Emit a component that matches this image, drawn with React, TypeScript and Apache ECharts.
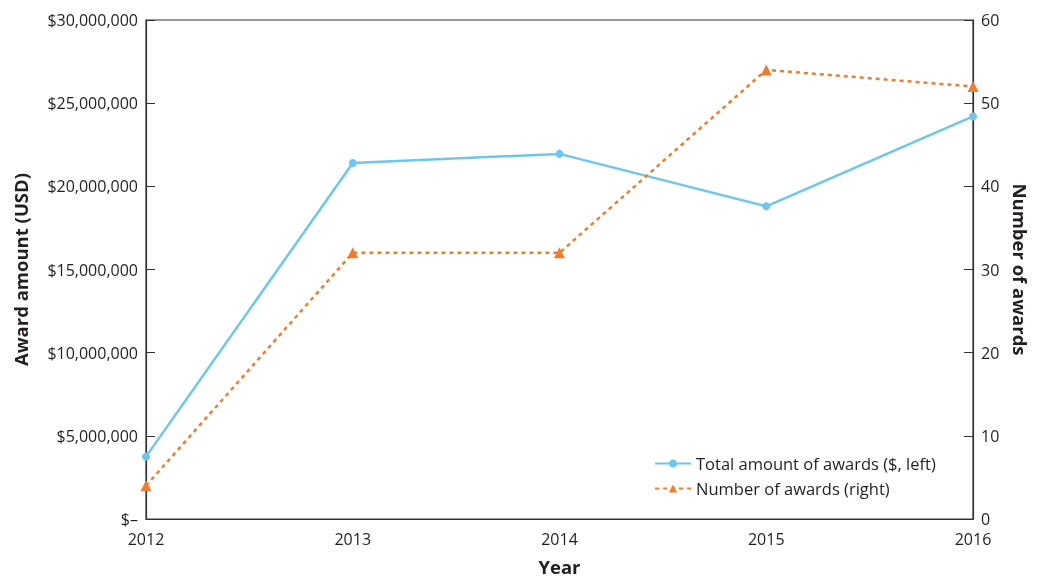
import React, { useEffect, useRef } from "react";
import * as echarts from "echarts";

const years = ["2012", "2013", "2014", "2015", "2016"];
const totalAmount = [3750000, 21400000, 21950000, 18800000, 24200000];
const numberOfAwards = [4, 32, 32, 54, 52];
const leftTicks = [0, 5000000, 10000000, 15000000, 20000000, 25000000, 30000000];

const FONT = "'Open Sans', 'Noto Sans', sans-serif";
const BLUE = "#6DC6EE";
const ORANGE = "#F07D2E";
const TEXT = "#231f20";

export default function App() {
  const ref = useRef<HTMLDivElement>(null);
  useEffect(() => {
    document.body.style.margin = "0";
    document.body.style.overflow = "hidden";
    const chart = echarts.init(ref.current!, null, { renderer: "svg", width: 1038, height: 581 });
    chart.setOption({
      animation: false,
      textStyle: { fontFamily: FONT },
      grid: {
        left: 146,
        top: 20,
        width: 835,
        height: 506,
        show: true,
        borderColor: "#333",
        borderWidth: 1.2,
      },
      legend: {
        orient: "vertical",
        left: 649,
        top: 450,
        itemWidth: 36,
        itemHeight: 10,
        itemGap: 8,
        textStyle: { fontFamily: FONT, fontSize: 16.5, color: TEXT },
        data: ["Total amount of awards ($, left)", "Number of awards (right)"],
      },
      xAxis: {
        type: "category",
        data: years,
        boundaryGap: false,
        name: "Year",
        nameLocation: "middle",
        nameGap: 38,
        nameTextStyle: { fontWeight: "bold", fontSize: 18.5, color: TEXT, fontFamily: FONT },
        axisLine: { lineStyle: { color: "#333", width: 1.2 } },
        axisTick: { show: false },
        axisLabel: { fontSize: 16, color: TEXT, margin: 13, lineHeight: 14 },
      },
      yAxis: [
        {
          type: "value",
          min: 0,
          max: leftTicks[leftTicks.length - 1],
          interval: 5000000,
          name: "Award amount (USD)",
          nameLocation: "middle",
          nameGap: 116,
          nameTextStyle: { fontWeight: "bold", fontSize: 18.5, color: TEXT, fontFamily: FONT },
          axisLine: { show: true, lineStyle: { color: "#333", width: 1.2 } },
          axisTick: { show: true, inside: true, length: 9, lineStyle: { color: "#333" } },
          splitLine: { show: false },
          axisLabel: {
            fontSize: 16,
            color: TEXT,
            margin: 8,
            lineHeight: 12,
            padding: [0, 0, 4, 0],
            formatter: (v: number) => (v === 0 ? "$–" : "$" + v.toLocaleString("en-US")),
          },
        },
        {
          type: "value",
          min: 0,
          max: 60,
          interval: 10,
          position: "right",
          name: "Number of awards",
          nameLocation: "middle",
          nameGap: 38,
          nameRotate: -90,
          nameTextStyle: { fontWeight: "bold", fontSize: 18.5, color: TEXT, fontFamily: FONT },
          axisLine: { show: true, lineStyle: { color: "#333", width: 1.2 } },
          axisTick: { show: true, inside: true, length: 9, lineStyle: { color: "#333" } },
          splitLine: { show: false },
          axisLabel: { fontSize: 16, color: TEXT, margin: 8, lineHeight: 12, padding: [0, 0, 6, 0] },
        },
      ],
      series: [
        {
          name: "Total amount of awards ($, left)",
          type: "line",
          yAxisIndex: 0,
          data: totalAmount,
          symbol: "circle",
          symbolSize: 8,
          lineStyle: { color: BLUE, width: 2.5 },
          itemStyle: { color: BLUE },
        },
        {
          name: "Number of awards (right)",
          type: "line",
          yAxisIndex: 1,
          data: numberOfAwards,
          symbol: "triangle",
          symbolSize: 11,
          lineStyle: { color: ORANGE, width: 2.5, type: [4, 4] },
          itemStyle: { color: ORANGE },
        },
      ],
    });
    return () => chart.dispose();
  }, []);
  return (
    <div
      ref={ref}
      style={{ position: "fixed", left: 0, top: 0, width: 1038, height: 581 }}
    />
  );
}
